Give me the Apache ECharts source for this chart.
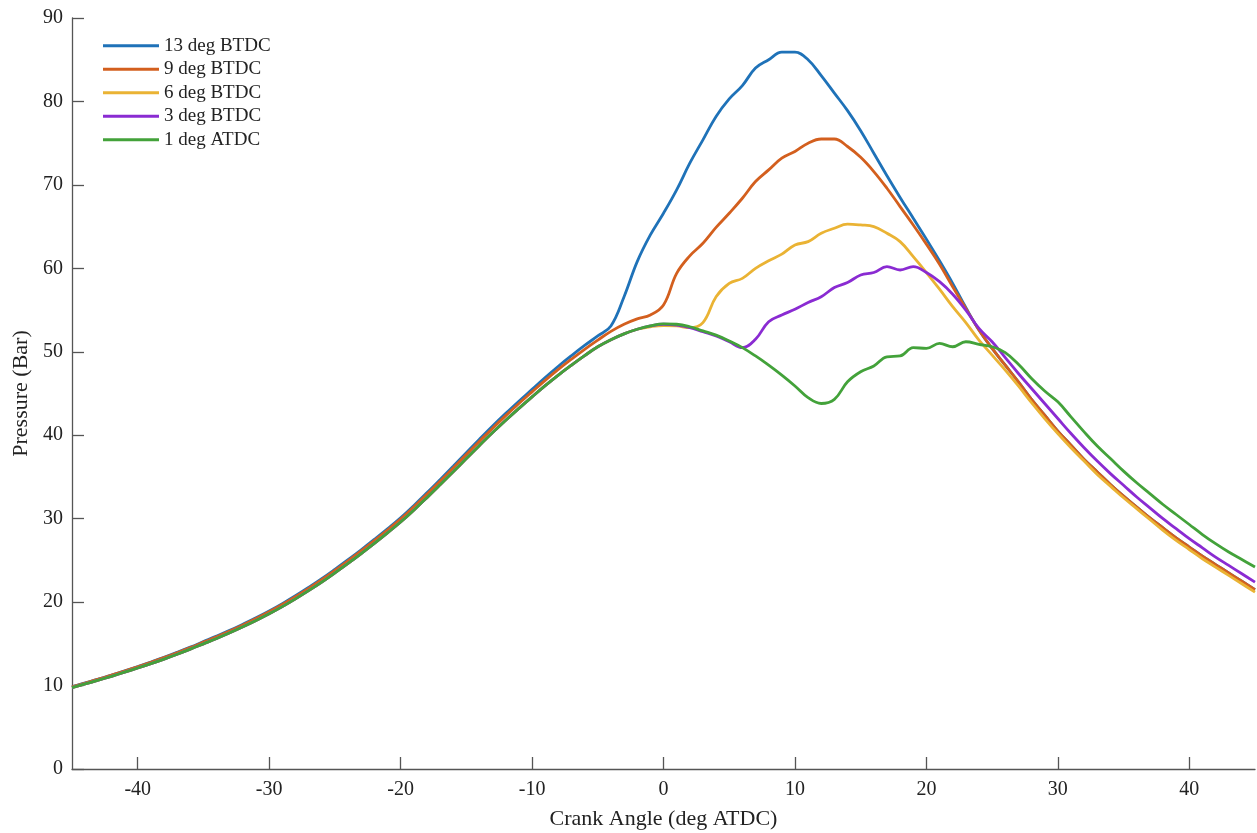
<!DOCTYPE html>
<html>
<head>
<meta charset="utf-8">
<script src="https://cdn.jsdelivr.net/npm/echarts@6/dist/echarts.min.js"></script>
<style>
html,body{margin:0;padding:0;background:#fff;}
#chart{width:1257px;height:833px;}
</style>
</head>
<body>
<div id="chart"></div>
<script>
// Crank angle (deg ATDC)
var crankAngle = [-45,-44,-43,-42,-41,-40,-39,-38,-37,-36,-35,-34,-33,-32,-31,-30,-29,-28,-27,-26,-25,-24,-23,-22,-21,-20,-19,-18,-17,-16,-15,-14,-13,-12,-11,-10,-9,-8,-7,-6,-5,-4,-3,-2,-1,0,1,2,3,4,5,6,7,8,9,10,11,12,13,14,15,16,17,18,19,20,21,22,23,24,25,26,27,28,29,30,31,32,33,34,35,36,37,38,39,40,41,42,43,44,45];

var seriesNames = ['13 deg BTDC','9 deg BTDC','6 deg BTDC','3 deg BTDC','1 deg ATDC'];

var p13BTDC = [9.85,10.31,10.77,11.26,11.76,12.28,12.82,13.38,13.98,14.60,15.26,15.92,16.61,17.35,18.12,18.94,19.82,20.76,21.76,22.80,23.92,25.08,26.27,27.51,28.78,30.10,31.56,33.10,34.68,36.28,37.90,39.52,41.10,42.62,44.08,45.50,46.92,48.27,49.54,50.76,51.90,53.10,56.6,60.8,64.0,66.6,69.4,72.6,75.4,78.2,80.3,81.9,84.0,85.0,85.9,85.9,85.0,83.1,81.0,78.9,76.5,73.8,71.1,68.5,66.0,63.5,60.9,58.2,55.3,52.6,50.4,48.4,46.4,44.3,42.4,40.5,38.8,37.1,35.6,34.1,32.7,31.4,30.1,28.9,27.7,26.6,25.5,24.5,23.5,22.5,21.5];

var p9BTDC = [9.85,10.30,10.76,11.24,11.74,12.25,12.78,13.34,13.93,14.55,15.20,15.85,16.54,17.27,18.04,18.85,19.72,20.66,21.65,22.69,23.80,24.95,26.14,27.37,28.64,29.95,31.40,32.92,34.49,36.07,37.68,39.28,40.85,42.35,43.80,45.20,46.58,47.89,49.12,50.30,51.40,52.45,53.30,53.95,54.40,55.6,59.4,61.5,63.0,64.9,66.6,68.4,70.4,71.8,73.2,74.0,75.0,75.5,75.5,74.6,73.3,71.6,69.6,67.4,65.2,62.9,60.5,57.8,55.2,52.6,50.4,48.4,46.4,44.3,42.4,40.5,38.8,37.1,35.6,34.1,32.7,31.4,30.1,28.9,27.7,26.6,25.5,24.5,23.5,22.5,21.5];

var p6BTDC = [9.75,10.19,10.64,11.11,11.60,12.10,12.62,13.17,13.75,14.36,15.00,15.64,16.32,17.04,17.80,18.60,19.46,20.39,21.37,22.40,23.50,24.64,25.82,27.04,28.30,29.60,31.02,32.52,34.06,35.62,37.20,38.78,40.32,41.80,43.22,44.60,45.94,47.21,48.40,49.54,50.60,51.45,52.15,52.70,53.0,53.15,53.1,52.9,53.5,56.6,58.2,58.8,60.0,60.9,61.7,62.8,63.2,64.2,64.8,65.3,65.2,65.0,64.2,63.2,61.4,59.5,57.5,55.4,53.5,51.4,49.6,47.8,45.9,43.9,42.0,40.2,38.5,36.9,35.3,33.9,32.5,31.2,29.9,28.6,27.4,26.3,25.2,24.2,23.2,22.2,21.2];

var p3BTDC = [9.75,10.19,10.64,11.11,11.60,12.10,12.62,13.17,13.75,14.36,15.00,15.64,16.32,17.04,17.80,18.60,19.46,20.39,21.37,22.40,23.50,24.64,25.82,27.04,28.30,29.60,31.02,32.52,34.06,35.62,37.20,38.78,40.32,41.80,43.22,44.60,45.94,47.21,48.40,49.54,50.60,51.45,52.15,52.70,53.10,53.30,53.2,52.9,52.4,51.9,51.2,50.5,51.5,53.6,54.4,55.1,55.9,56.6,57.7,58.3,59.2,59.5,60.2,59.8,60.2,59.5,58.4,56.9,55.0,52.8,51.2,49.3,47.4,45.6,43.8,42.0,40.2,38.5,36.9,35.4,34.0,32.6,31.3,30.0,28.8,27.6,26.5,25.4,24.4,23.4,22.4];

var p1ATDC = [9.75,10.19,10.64,11.11,11.60,12.10,12.62,13.17,13.75,14.36,15.00,15.64,16.32,17.04,17.80,18.60,19.46,20.39,21.37,22.40,23.50,24.64,25.82,27.04,28.30,29.60,31.02,32.52,34.06,35.62,37.20,38.78,40.32,41.80,43.22,44.60,45.94,47.21,48.40,49.54,50.60,51.45,52.15,52.70,53.10,53.35,53.3,53.0,52.5,52.0,51.3,50.5,49.5,48.4,47.2,45.9,44.5,43.8,44.3,46.4,47.6,48.3,49.4,49.5,50.5,50.4,51.0,50.6,51.2,50.9,50.6,49.9,48.5,46.8,45.3,44.0,42.2,40.4,38.7,37.2,35.7,34.3,33.0,31.7,30.5,29.3,28.1,27.0,26.0,25.1,24.2];

var xTickLabels = [-40,-30,-20,-10,0,10,20,30,40];
var yTickLabels = [0,10,20,30,40,50,60,70,80,90];

var colors = ['#1f72b8','#d35f1e','#eab334','#8a2bd2','#43a23a'];
var allSeries = [p13BTDC, p9BTDC, p6BTDC, p3BTDC, p1ATDC];

function pairs(arr){
  return crankAngle.map(function(x,i){ return [x, arr[i]]; });
}

var fontFam = "'Liberation Serif','Times New Roman',serif";

var chart = echarts.init(document.getElementById('chart'), null, {renderer:'canvas'});
chart.setOption({
  animation:false,
  backgroundColor:'#ffffff',
  textStyle:{fontFamily:fontFam},
  grid:{left:72, right:2, top:18, bottom:64, containLabel:false, outerBoundsMode:'none'},
  legend:{
    orient:'vertical',
    left:98, top:31,
    icon:'rect',
    itemWidth:56, itemHeight:3,
    itemGap:4,
    textStyle:{fontFamily:fontFam, fontSize:19, color:'#222', lineHeight:19.5},
    data:seriesNames
  },
  xAxis:{
    type:'value', min:-45, max:45,
    name:'Crank Angle (deg ATDC)', nameLocation:'middle', nameGap:39,
    nameTextStyle:{fontFamily:fontFam, fontSize:22, color:'#222'},
    axisLine:{show:true, onZero:false, lineStyle:{color:'#555', width:1.3}},
    axisTick:{show:true, inside:true, length:12, customValues:xTickLabels, lineStyle:{color:'#555', width:1.3}},
    axisLabel:{customValues:xTickLabels, fontFamily:fontFam, fontSize:20, color:'#222', margin:11},
    splitLine:{show:false}
  },
  yAxis:{
    type:'value', min:0, max:90, interval:10,
    name:'Pressure (Bar)', nameLocation:'middle', nameGap:38,
    nameTextStyle:{fontFamily:fontFam, fontSize:22, color:'#222'},
    axisLine:{show:true, onZero:false, lineStyle:{color:'#555', width:1.3}},
    axisTick:{show:true, inside:true, length:12, lineStyle:{color:'#555', width:1.3}},
    axisLabel:{fontFamily:fontFam, fontSize:20, color:'#222', margin:9},
    splitLine:{show:false}
  },
  series: allSeries.map(function(arr, i){
    return {
      name:seriesNames[i], type:'line', data:pairs(arr),
      showSymbol:false, symbol:'none', smooth:0.4,
      lineStyle:{color:colors[i], width:2.8},
      itemStyle:{color:colors[i]},
      z:2+i
    };
  })
});
</script>
</body>
</html>
